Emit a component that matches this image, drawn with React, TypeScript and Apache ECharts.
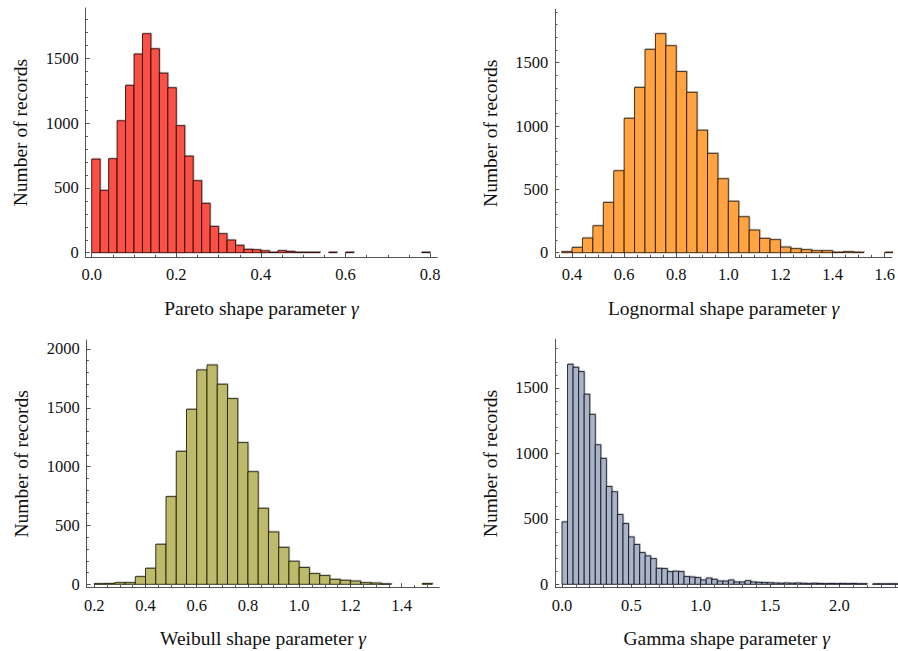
import React, { useEffect, useRef } from "react";
import * as echarts from "echarts";

// ---------- data ----------
const paretoBinStart = 0.0;
const paretoBinWidth = 0.02;
const paretoCounts = [723, 481, 726, 1019, 1292, 1534, 1691, 1575, 1387, 1274, 981, 746, 556, 381, 203, 147, 98, 57, 26, 23, 15, 3, 16, 10, 3, 3, 3, 0, 3, 0, 3, 0, 0, 0, 0, 0, 0, 0, 0, 3];

const lognormalBinStart = 0.36;
const lognormalBinWidth = 0.04;
const lognormalCounts = [8, 42, 116, 213, 397, 647, 1061, 1305, 1605, 1729, 1634, 1430, 1266, 967, 784, 584, 406, 284, 179, 113, 103, 45, 32, 24, 16, 16, 3, 8, 3, 0, 0, 3];

const weibullBinStart = 0.2;
const weibullBinWidth = 0.04;
const weibullCounts = [5, 6, 14, 14, 65, 136, 340, 745, 1130, 1487, 1822, 1864, 1700, 1578, 1204, 957, 646, 445, 314, 196, 143, 91, 74, 42, 34, 28, 14, 11, 3, 0, 0, 0, 6];

const gammaBinStart = 0.0;
const gammaBinWidth = 0.04;
const gammaCounts = [477, 1681, 1658, 1625, 1452, 1298, 1066, 962, 747, 707, 533, 464, 362, 304, 242, 217, 196, 122, 120, 97, 100, 97, 59, 56, 51, 33, 48, 38, 25, 25, 33, 18, 18, 28, 18, 15, 13, 12, 10, 8, 10, 8, 10, 8, 5, 8, 6, 5, 6, 5, 6, 5, 6, 4, 4, 0, 3, 3, 3, 3, 3];

const paretoXLabels = [0, 0.2, 0.4, 0.6, 0.8];
const lognormalXLabels = [0.4, 0.6, 0.8, 1.0, 1.2, 1.4, 1.6];
const weibullXLabels = [0.2, 0.4, 0.6, 0.8, 1.0, 1.2, 1.4];
const gammaXLabels = [0, 0.5, 1.0, 1.5, 2.0];
const yLabelsLow = [0, 500, 1000, 1500];
const yLabelsHigh = [0, 500, 1000, 1500, 2000];

const paretoName = "Pareto";
const lognormalName = "Lognormal";
const weibullName = "Weibull";
const gammaName = "Gamma";
const yName = "Number of records";

// ---------- style ----------
const FONT = "'Liberation Serif', 'Times New Roman', Times, serif";
const AXIS_COLOR = "#555555";
const TEXT_COLOR = "#111111";

function ticks(from: number, to: number, step: number): number[] {
  const out: number[] = [];
  const n = Math.round((to - from) / step);
  for (let i = 0; i <= n; i++) out.push(Math.round((from + i * step) * 1e6) / 1e6);
  return out;
}

type Panel = {
  grid: { left: number; top: number; width: number; height: number };
  xMin: number; xMax: number; yMin: number; yMax: number;
  xLabels: number[]; xMinor: number[];
  yLabels: number[]; yMinor: number[];
  name: string; fill: string; edge: string;
  start: number; width: number; counts: number[];
};

const panels: Panel[] = [
  {
    grid: { left: 85.7, top: 8, width: 351.6, height: 249.3 },
    xMin: -0.0142, xMax: 0.817, yMin: -35.5, yMax: 1889.6,
    xLabels: paretoXLabels, xMinor: ticks(0, 0.8, 0.05),
    yLabels: yLabelsLow, yMinor: ticks(0, 1800, 100),
    name: paretoName, fill: "#FA5146", edge: "rgba(40,0,0,0.85)",
    start: paretoBinStart, width: paretoBinWidth, counts: paretoCounts,
  },
  {
    grid: { left: 555.3, top: 9.3, width: 342.7, height: 248 },
    xMin: 0.3358, xMax: 1.6275, yMin: -36.3, yMax: 1921.5,
    xLabels: lognormalXLabels, xMinor: ticks(0.35, 1.6, 0.05),
    yLabels: yLabelsLow, yMinor: ticks(0, 1900, 100),
    name: lognormalName, fill: "#FFA343", edge: "rgba(40,20,0,0.85)",
    start: lognormalBinStart, width: lognormalBinWidth, counts: lognormalCounts,
  },
  {
    grid: { left: 86.7, top: 340, width: 352.6, height: 247.7 },
    xMin: 0.1703, xMax: 1.5471, yMin: -28.9, yMax: 2076.1,
    xLabels: weibullXLabels, xMinor: ticks(0.2, 1.5, 0.05),
    yLabels: yLabelsHigh, yMinor: ticks(0, 2000, 100),
    name: weibullName, fill: "#BDBB6B", edge: "rgba(25,25,0,0.85)",
    start: weibullBinStart, width: weibullBinWidth, counts: weibullCounts,
  },
  {
    grid: { left: 555.3, top: 339.3, width: 342.7, height: 248.4 },
    xMin: -0.0483, xMax: 2.4231, yMin: -26, yMax: 1871.8,
    xLabels: gammaXLabels, xMinor: ticks(0, 2.4, 0.1),
    yLabels: yLabelsLow, yMinor: ticks(0, 1800, 100),
    name: gammaName, fill: "#ABB3C6", edge: "rgba(10,15,30,0.85)",
    start: gammaBinStart, width: gammaBinWidth, counts: gammaCounts,
  },
];

export default function App() {
  const ref = useRef<HTMLDivElement | null>(null);

  useEffect(() => {
    if (!ref.current) return;
    const chart = echarts.init(ref.current, null, { renderer: "svg" });

    const grid: any[] = [];
    const xAxis: any[] = [];
    const yAxis: any[] = [];
    const series: any[] = [];

    panels.forEach((p, i) => {
      grid.push({ ...p.grid, containLabel: false });
      const lineStyle = { color: AXIS_COLOR, width: 1 };
      // major x axis
      xAxis.push({
        type: "value", gridIndex: i, position: "bottom", min: p.xMin, max: p.xMax,
        axisLine: { show: true, onZero: false, lineStyle },
        axisTick: { show: true, inside: true, length: 4.5, customValues: p.xLabels, lineStyle },
        axisLabel: {
          show: true, customValues: p.xLabels, formatter: (v: number) => v.toFixed(1),
          margin: 9, fontFamily: FONT, fontSize: 16.5, color: TEXT_COLOR,
        },
        splitLine: { show: false },
        name: p.name + " shape parameter {g|γ}",
        nameLocation: "middle", nameGap: 41,
        nameTextStyle: {
          fontFamily: FONT, fontSize: 19.5, color: TEXT_COLOR,
          rich: { g: { fontFamily: FONT, fontSize: 19.5, fontStyle: "italic", color: TEXT_COLOR } },
        },
      });
      // minor x axis
      xAxis.push({
        type: "value", gridIndex: i, position: "bottom", min: p.xMin, max: p.xMax,
        axisLine: { show: false, onZero: false },
        axisTick: { show: true, inside: true, length: 2.5, customValues: p.xMinor, lineStyle },
        axisLabel: { show: false },
        splitLine: { show: false },
      });
      // major y axis
      yAxis.push({
        type: "value", gridIndex: i, position: "left", min: p.yMin, max: p.yMax,
        axisLine: { show: true, onZero: false, lineStyle },
        axisTick: { show: true, inside: true, length: 4, customValues: p.yLabels, lineStyle },
        axisLabel: {
          show: true, customValues: p.yLabels, formatter: (v: number) => String(v),
          margin: 7, fontFamily: FONT, fontSize: 16.5, color: TEXT_COLOR,
        },
        splitLine: { show: false },
        name: yName, nameLocation: "middle", nameGap: 55, nameRotate: 90,
        nameTextStyle: { fontFamily: FONT, fontSize: 19.5, color: TEXT_COLOR },
      });
      // minor y axis
      yAxis.push({
        type: "value", gridIndex: i, position: "left", min: p.yMin, max: p.yMax,
        axisLine: { show: false, onZero: false },
        axisTick: { show: true, inside: true, length: 2.2, customValues: p.yMinor, lineStyle },
        axisLabel: { show: false },
        splitLine: { show: false },
      });

      const data = p.counts.map((c, k) => [
        Math.round((p.start + k * p.width) * 1e6) / 1e6,
        Math.round((p.start + (k + 1) * p.width) * 1e6) / 1e6,
        c,
      ]);
      const fill = p.fill;
      const edge = p.edge;
      series.push({
        type: "custom",
        xAxisIndex: 2 * i,
        yAxisIndex: 2 * i,
        clip: true,
        silent: true,
        encode: { x: [0, 1], y: 2 },
        data,
        renderItem: (_params: any, api: any) => {
          const s = api.value(0);
          const e = api.value(1);
          const c = api.value(2);
          if (!c) return null;
          const p0 = api.coord([s, c]);
          const p1 = api.coord([e, 0]);
          return {
            type: "group",
            children: [
              {
                type: "rect",
                shape: { x: p0[0] + 0.8, y: p0[1] - 0.8, width: p1[0] - p0[0], height: p1[1] - p0[1] },
                style: { fill: "none", stroke: "rgba(0,0,0,0.22)", lineWidth: 1 },
              },
              {
                type: "rect",
                shape: { x: p0[0], y: p0[1], width: p1[0] - p0[0], height: p1[1] - p0[1] },
                style: { fill, stroke: edge, lineWidth: 1 },
              },
            ],
          };
        },
      });
    });

    chart.setOption({
      animation: false,
      backgroundColor: "#ffffff",
      grid,
      xAxis,
      yAxis,
      series,
    });

    return () => {
      chart.dispose();
    };
  }, []);

  return (
    <div
      ref={ref}
      style={{ position: "absolute", left: 0, top: 0, width: 898, height: 651, background: "#fff" }}
    />
  );
}
